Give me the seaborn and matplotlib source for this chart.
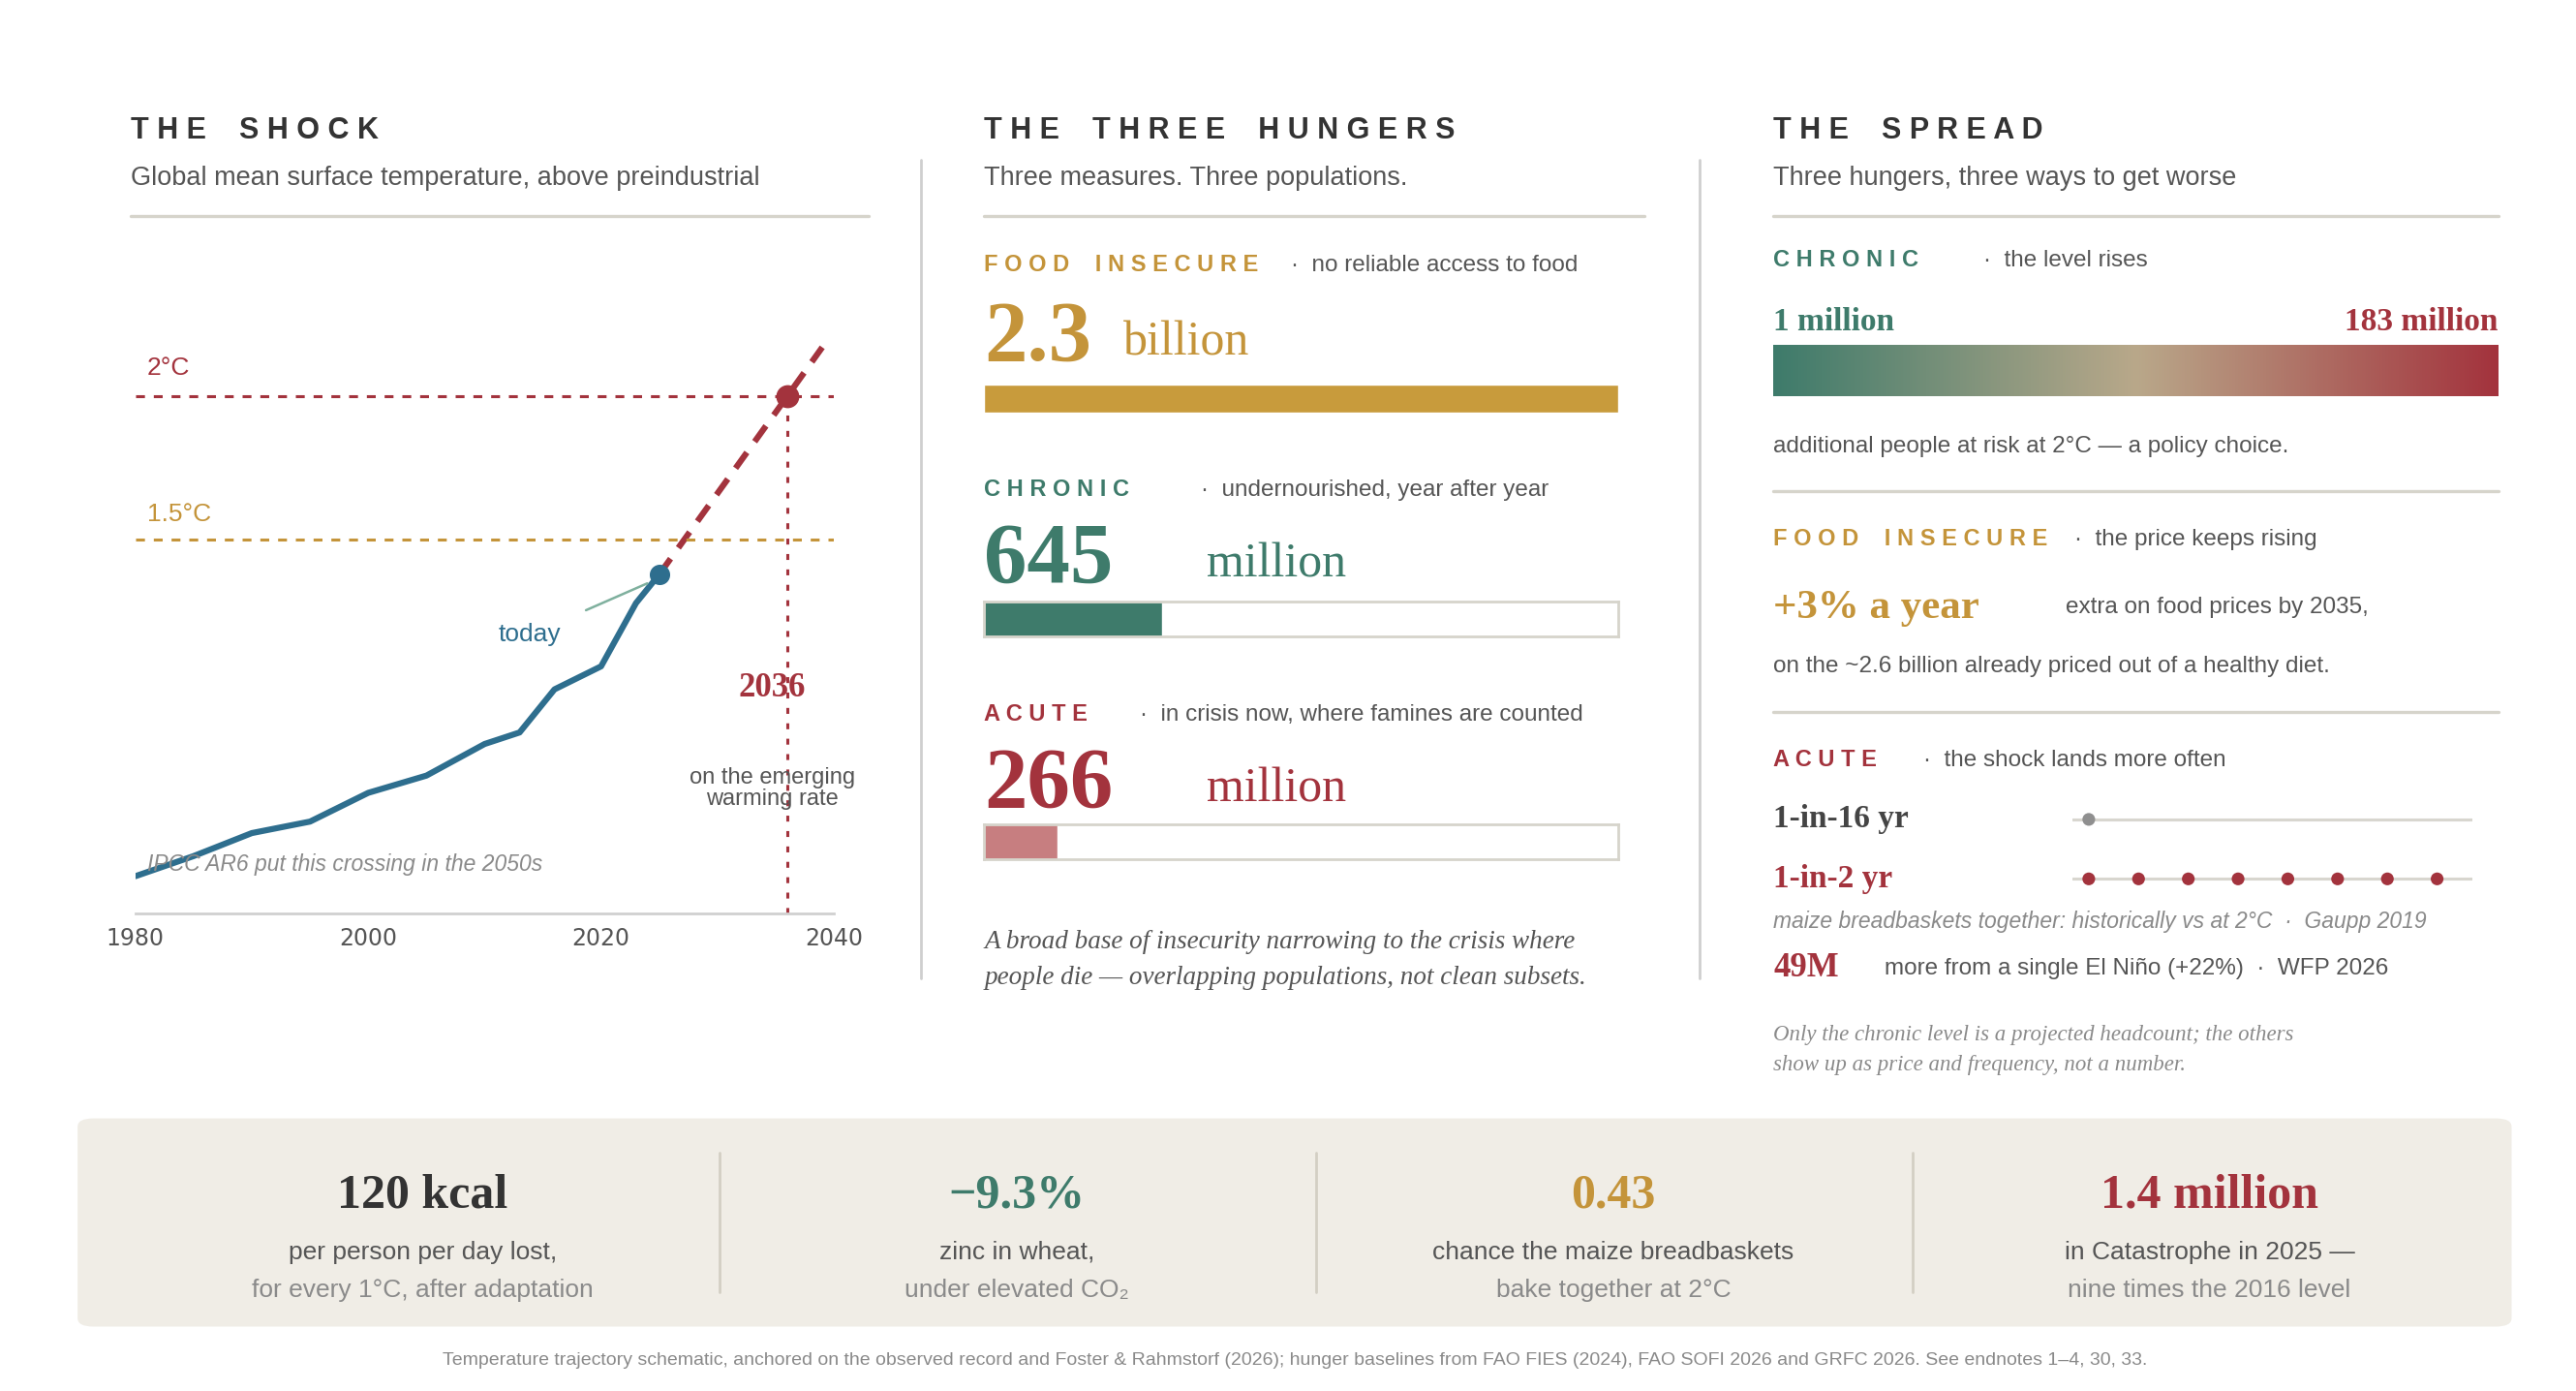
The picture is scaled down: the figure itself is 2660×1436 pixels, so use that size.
import numpy as np
import pandas as pd
import matplotlib
matplotlib.use("Agg")
import matplotlib.pyplot as plt
import seaborn as sns
from matplotlib.colors import LinearSegmentedColormap
from matplotlib.patches import FancyBboxPatch

# ---------------- data ----------------
obs_years = [1980, 1985, 1990, 1995, 2000, 2005, 2010, 2013, 2016, 2020, 2023, 2025]
obs_temp = [0.33, 0.40, 0.48, 0.52, 0.62, 0.68, 0.79, 0.83, 0.98, 1.06, 1.28, 1.38]
proj_years = [2025, 2036, 2039]
proj_temp = [1.38, 2.00, 2.17]
thresholds = [1.5, 2.0]
threshold_labels = ["1.5°C", "2°C"]
crossing_year = 2036
x_ticks = [1980, 2000, 2020, 2040]

hunger_names = ["FOOD INSECURE", "CHRONIC", "ACUTE"]
hunger_values = [2300, 645, 266]  # millions
hunger_bar_max = 2300

freq_hist_events = [0]
freq_2c_events = [0, 2, 4, 6, 8, 10, 12, 14]

bottom_values = ["120 kcal", "\u22129.3%", "0.43", "1.4 million"]
bottom_line1 = ["per person per day lost,", "zinc in wheat,",
                "chance the maize breadbaskets", "in Catastrophe in 2025 \u2014"]
bottom_line2 = ["for every 1°C, after adaptation", "under elevated CO\u2082",
                "bake together at 2°C", "nine times the 2016 level"]

# ---------------- style ----------------
sns.set_theme(style="white")
plt.rcParams['font.family'] = ['Liberation Sans', 'DejaVu Sans']
SERIF = ['Liberation Serif', 'DejaVu Serif']

RED = "#A3333D"
GOLD = "#C4943A"
GREEN = "#3E7B6B"
BLUE = "#2E6E8E"
DARK = "#333333"
MID = "#555555"
LIGHT = "#8A8A8A"
RULE = "#D6D4CB"

W, H = 1560.0, 842.0
fig = plt.figure(figsize=(26.6, 14.36), dpi=100)
fig.patch.set_facecolor("white")

def P(x, y):
    return (x / W, 1 - y / H)

def T(x, y, s, size, color=MID, ha="left", va="baseline", weight="normal",
      style="normal", family=None, **kw):
    fig.text(*P(x, y), s, fontsize=size, color=color, ha=ha, va=va,
             fontweight=weight, fontstyle=style,
             family=family if family else plt.rcParams['font.family'], **kw)

def spaced(s):
    return " ".join(list(s)).replace("   ", "    ")

def hline(x0, x1, y, color=RULE, lw=2.4):
    fig.add_artist(plt.Line2D([x0 / W, x1 / W], [1 - y / H, 1 - y / H],
                              color=color, lw=lw, transform=fig.transFigure))

def vline(x, y0, y1, color="#CFCFCF", lw=2.0):
    fig.add_artist(plt.Line2D([x / W, x / W], [1 - y0 / H, 1 - y1 / H],
                              color=color, lw=lw, transform=fig.transFigure))

def ax_at(x0, y0, x1, y1):
    return fig.add_axes([x0 / W, 1 - y1 / H, (x1 - x0) / W, (y1 - y0) / H])

# ---------------- headers ----------------
for x, head, sub, r1 in [(79, "THE SHOCK", "Global mean surface temperature, above preindustrial", 526),
                         (596, "THE THREE HUNGERS", "Three measures. Three populations.", 996),
                         (1074, "THE SPREAD", "Three hungers, three ways to get worse", 1513)]:
    T(x, 84, spaced(head), 22, color=DARK, weight="bold")
    T(x, 112, sub, 19.5, color=MID)
    hline(x, r1, 131)
vline(558, 97, 592)
vline(1029, 97, 592)

# ---------------- left chart ----------------
ax = ax_at(82, 205, 505, 553)
df_obs = pd.DataFrame({"year": obs_years, "temp": obs_temp})
df_proj = pd.DataFrame({"year": proj_years, "temp": proj_temp})
sns.lineplot(data=df_obs, x="year", y="temp", ax=ax, color=BLUE, lw=4.5)
sns.lineplot(data=df_proj, x="year", y="temp", ax=ax, color=RED, lw=4.5,
             dashes=False, linestyle=(0, (3.2, 2.2)))
ax.axhline(thresholds[0], color=GOLD, lw=2.2, ls=(0, (3, 3)), xmax=1.0)
ax.axhline(thresholds[1], color=RED, lw=2.2, ls=(0, (3, 3)))
ax.plot([crossing_year, crossing_year], [0.2, 2.0], color=RED, lw=2.2, ls=(0, (2, 3.2)))
ax.scatter([crossing_year], [2.0], s=260, color=RED, zorder=5)
ax.scatter([obs_years[-1]], [obs_temp[-1]], s=200, color=BLUE, zorder=5)
ax.set_xlim(1980, 2040)
ax.set_ylim(0.2, 2.2)
ax.set_xticks(x_ticks)
ax.set_xticklabels([str(t) for t in x_ticks], fontsize=17, color=MID,
                   family=['DejaVu Sans'])
ax.set_yticks([])
ax.set_xlabel(""); ax.set_ylabel("")
ax.tick_params(axis="x", length=0, pad=10)
for s in ["top", "right", "left"]:
    ax.spines[s].set_visible(False)
ax.spines["bottom"].set_color("#D0D0D0")
ax.spines["bottom"].set_linewidth(2)
ax.patch.set_alpha(0)
ax.set_clip_on(False)
ax.text(1981, 2.075, threshold_labels[1], color=RED, fontsize=19)
ax.text(1981, 1.565, threshold_labels[0], color=GOLD, fontsize=19)
ax.annotate("today", xy=(2024.6, 1.36), xytext=(2013.9, 1.17),
            color=BLUE, fontsize=19, ha="center", va="center",
            arrowprops=dict(arrowstyle="-", color="#7FB09E", lw=1.8,
                            shrinkA=18, shrinkB=6))
ax.text(2034.7, 0.985, "2036", color=RED, fontsize=25, weight="bold",
        family=SERIF, ha="center", va="center")
ax.text(2034.7, 0.635, "on the emerging\nwarming rate", color=MID, fontsize=17,
        ha="center", va="center", linespacing=0.95)
ax.text(1981, 0.37, "IPCC AR6 put this crossing in the 2050s", color=LIGHT,
        fontsize=16.5, style="italic", va="center")

# ---------------- middle panel ----------------
mid_cfg = [
    (0, 159, "no reliable access to food", GOLD, "2.3", "billion", 680, 218, 233, 250, "#C89B3C"),
    (1, 295, "undernourished, year after year", GREEN, "645", "million", 731, 352, 364, 385, GREEN),
    (2, 431, "in crisis now, where famines are counted", RED, "266", "million", 731, 488, 499, 520, "#C77E80"),
]
for i, yl, desc, col, big, unit, ux, by, b0, b1, fill in mid_cfg:
    name = hunger_names[i]
    T(596, yl + 5, spaced(name), 17, color=col, weight="bold")
    dx = {0: 782, 1: 727, 2: 690}[i]
    T(dx, yl + 5, "\u00b7  " + desc, 17.5, color=MID)
    T(596, by, big, 64, color=col, weight="bold", family=SERIF)
    T(ux, by - 3 if i == 0 else by - 3, unit, 36, color=col, family=SERIF)
    bax = ax_at(596, b0, 980, b1)
    sns.barplot(x=[hunger_values[i]], y=[0], orient="h", ax=bax, color=fill,
                width=1.0, saturation=1)
    bax.set_xlim(0, hunger_bar_max)
    bax.set_ylim(0.5, -0.5)
    bax.set_xticks([]); bax.set_yticks([])
    bax.set_xlabel(""); bax.set_ylabel("")
    for s in bax.spines.values():
        s.set_visible(i != 0)
        s.set_color("#D6D4CB"); s.set_linewidth(2)
T(596, 574, "A broad base of insecurity narrowing to the crisis where", 19.5,
  color=MID, style="italic", family=SERIF)
T(596, 596, "people die \u2014 overlapping populations, not clean subsets.", 19.5,
  color=MID, style="italic", family=SERIF)

# ---------------- right panel ----------------
T(1074, 161, spaced("CHRONIC"), 17, color=GREEN, weight="bold")
T(1201, 161, "\u00b7  the level rises", 17.5, color=MID)
T(1074, 200, "1 million", 24, color=GREEN, weight="bold", family=SERIF)
T(1513, 200, "183 million", 24, color=RED, weight="bold", family=SERIF, ha="right")
gax = ax_at(1074, 209, 1513, 240)
cmap = LinearSegmentedColormap.from_list("spread", [GREEN, "#B9A88A", RED])
gax.imshow(np.linspace(0, 1, 512)[None, :], aspect="auto", cmap=cmap)
gax.set_axis_off()
T(1074, 274, "additional people at risk at 2°C \u2014 a policy choice.", 17.5, color=MID)
hline(1074, 1513, 297)

T(1074, 330, spaced("FOOD INSECURE"), 17, color=GOLD, weight="bold")
T(1256, 330, "\u00b7  the price keeps rising", 17.5, color=MID)
T(1074, 374, "+3% a year", 31, color=GOLD, weight="bold", family=SERIF)
T(1251, 371, "extra on food prices by 2035,", 17.5, color=MID)
T(1074, 407, "on the ~2.6 billion already priced out of a healthy diet.", 17.5, color=MID)
hline(1074, 1513, 431)

T(1074, 464, spaced("ACUTE"), 17, color=RED, weight="bold")
T(1165, 464, "\u00b7  the shock lands more often", 17.5, color=MID)
T(1074, 501, "1-in-16 yr", 24, color="#444444", weight="bold", family=SERIF)
T(1074, 537, "1-in-2 yr", 24, color=RED, weight="bold", family=SERIF)
for yrow, evs, dcol in [(496, freq_hist_events, "#8F8F8F"), (532, freq_2c_events, RED)]:
    dax = ax_at(1255, yrow - 8, 1497, yrow + 8)
    dax.axhline(0, color="#D8D6CF", lw=2.2, zorder=1)
    sns.scatterplot(x=evs, y=[0] * len(evs), ax=dax, color=dcol, s=90,
                    edgecolor="none", zorder=3)
    dax.set_xlim(-0.66, 15.4)
    dax.set_ylim(-1, 1)
    dax.set_axis_off()
T(1074, 562, "maize breadbaskets together: historically vs at 2°C  \u00b7  Gaupp 2019",
  16.5, color=LIGHT, style="italic")
T(1074, 591, "49M", 25, color=RED, weight="bold", family=SERIF)
T(1141, 590, "more from a single El Ni\u00f1o (+22%)  \u00b7  WFP 2026", 17.5, color=MID)
T(1074, 630, "Only the chronic level is a projected headcount; the others", 16.5,
  color=LIGHT, style="italic", family=SERIF)
T(1074, 648, "show up as price and frequency, not a number.", 16.5,
  color=LIGHT, style="italic", family=SERIF)

# ---------------- bottom strip ----------------
fig.add_artist(FancyBboxPatch((47 / W, 1 - 803 / H), (1521 - 47) / W, (803 - 677) / H,
                              boxstyle="round,pad=0,rounding_size=0.006",
                              transform=fig.transFigure, facecolor="#F0EDE6",
                              edgecolor="none", zorder=0))
for xs in [436, 797, 1158]:
    vline(xs, 698, 782, color="#D3CFC4", lw=2)
centers = [256, 616, 977, 1338]
bcols = [DARK, GREEN, GOLD, RED]
for c, v, l1, l2, bc in zip(centers, bottom_values, bottom_line1, bottom_line2, bcols):
    T(c, 731, v, 36, color=bc, weight="bold", family=SERIF, ha="center")
    T(c, 762, l1, 19, color=MID, ha="center")
    T(c, 785, l2, 19, color=LIGHT, ha="center")

T(784, 826, "Temperature trajectory schematic, anchored on the observed record and Foster & Rahmstorf (2026); "
  "hunger baselines from FAO FIES (2024), FAO SOFI 2026 and GRFC 2026. See endnotes 1\u20134, 30, 33.",
  14, color=LIGHT, ha="center")

fig.savefig("out.png", dpi=100, facecolor="white")
